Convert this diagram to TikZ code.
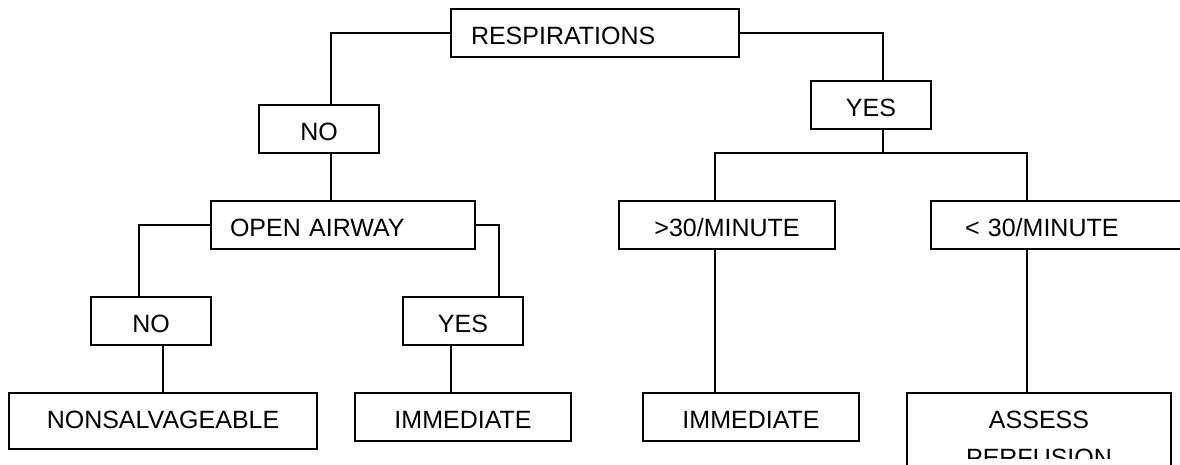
\documentclass[tikz,border=0pt]{standalone}
\usepackage{fontspec}
\setmainfont{Liberation Sans}

\tikzset{
    kasten/.style={draw, line width=1.8pt, anchor=north west, inner xsep=0pt, inner ysep=0pt, outer sep=0pt,
        minimum height=48pt, text height=23pt, text depth=0pt, align=center,
        font=\fontsize{25}{38}\selectfont},
    linie/.style={line width=1.8pt},
}

\begin{document}
\begin{tikzpicture}[x=1pt, y=-1pt]

        \useasboundingbox (0,0) rectangle (1180,464);  %Bildgroesse
        \clip (0,0) rectangle (1180,464);  %rechts und unten abgeschnitten

        \node[kasten, text width=248pt, inner xsep=20pt, align=left] (resp) at (451,9) {RESPIRATIONS};  %Wurzel

        \node[kasten, text width=120pt] (nein) at (259,105) {NO};  %linker Ast
        \node[kasten, text width=226pt, inner xsep=19pt, align=left] (atemweg) at (211,201) {OPEN AIRWAY};
        \node[kasten, text width=120pt] (nein2) at (91,297) {NO};
        \node[kasten, text width=120pt] (ja2) at (403,297) {YES};
        \node[kasten, text width=308pt, minimum height=56pt, text depth=8pt] (nons) at (9,393) {NONSALVAGEABLE};
        \node[kasten, text width=216pt] (sofort) at (355,393) {IMMEDIATE};

        \node[kasten, text width=120pt] (ja) at (811,81) {YES};  %rechter Ast
        \node[kasten, text width=216pt] (schnell) at (619,201) {>30/MINUTE};
        \node[kasten, text width=266pt, inner xsep=34pt, align=left] (langsam) at (931,201) {< 30/MINUTE};
        \node[kasten, text width=216pt] (sofort2) at (643,393) {IMMEDIATE};
        \node[kasten, text width=264pt, minimum height=100pt] (pruefen) at (907,393) {};  %Kasten ragt unten hinaus

        \begin{scope}
            \clip (0,0) rectangle (1180,458);  %zweite Zeile abgeschnitten
            \node[font=\fontsize{25}{38}\selectfont, text width=264pt, inner sep=0pt, align=center,
                anchor=base, yshift=-35.5pt] (perfusion) at (pruefen.north) {ASSESS\\PERFUSION};
        \end{scope}

        \draw[linie] (resp.west) -| ([xshift=12pt]nein.north);
        \draw[linie] ([xshift=12pt]nein.south) -- ([xshift=-12pt]atemweg.north);
        \draw[linie] (atemweg.west) -| ([xshift=-12pt]nein2.north);
        \draw[linie] (atemweg.east) -| ([xshift=36pt]ja2.north);
        \draw[linie] ([xshift=12pt]nein2.south) -- (nons.north);
        \draw[linie] ([xshift=-12pt]ja2.south) -- ([xshift=-12pt]sofort.north);

        \draw[linie] (resp.east) -| ([xshift=12pt]ja.north);
        \draw[linie] ([xshift=12pt]ja.south) -- ++(0,24) coordinate (gabel);  %Verzweigung
        \draw[linie] ([xshift=-12pt]schnell.north) |- (gabel) -| ([xshift=96pt]langsam.north west);
        \draw[linie] ([xshift=-12pt]schnell.south) -- ([xshift=-36pt]sofort2.north);
        \draw[linie] ([xshift=96pt]langsam.south west) -- ([xshift=-12pt]pruefen.north);

\end{tikzpicture}
\end{document}
